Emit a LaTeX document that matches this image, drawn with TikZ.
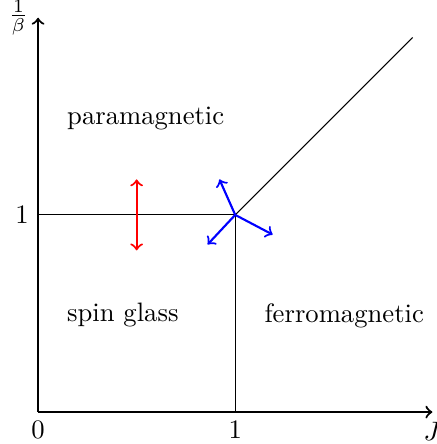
\documentclass[tikz,border=0pt]{standalone}
\begin{document}
\begin{tikzpicture}[x=2.6cm, y=2.6cm, >=to]
	\useasboundingbox (-0.193,-0.162) rectangle (2.02,2.09);
	\draw[thick,->] (0,0)--(2,0) node[below] (jlab) {$J$};
	\draw[thick,->] (0,0)--(0,2) node[left] (blab) {$\frac{1}{\beta}$};
	\node[below] (zero) at (0,0) {$0$};
	\node[below] (onex) at (1,0) {$1$};
	\node[left] (oney) at (0,1) {$1$};
	\draw (0,1)--(1,1);
	\draw (1,0)--(1,1);
	\draw (1,1)--(1.9,1.9);
	\draw[thick,red,<->] (0.5,0.82)--(0.5,1.18);
	\draw[thick,blue,->] (1,1)--(0.92,1.18);
	\draw[thick,blue,->] (1,1)--(0.86,0.85);
	\draw[thick,blue,->] (1,1)--(1.19,0.9);
	\node (para) at (0.546,1.49) {paramagnetic};
	\node (spin) at (0.43,0.49) {spin glass};
	\node (ferro) at (1.553,0.49) {ferromagnetic};
\end{tikzpicture}
\end{document}
